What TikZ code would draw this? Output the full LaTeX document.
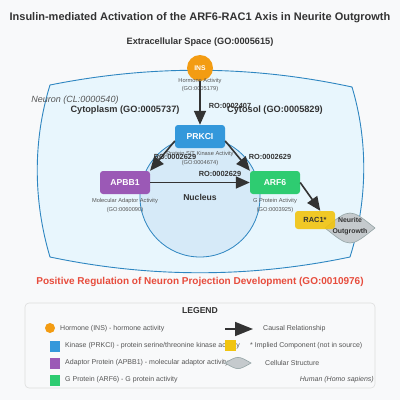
\documentclass[tikz,border=0pt]{standalone}
\usepackage{fontspec}
\setmainfont{Liberation Sans}
\usetikzlibrary{arrows.meta}
\definecolor{bg}{HTML}{F8F9FA}
\definecolor{darkc}{HTML}{333333}
\definecolor{descgray}{HTML}{555555}
\definecolor{cellfill}{HTML}{E8F6FD}
\definecolor{cellline}{HTML}{2E86C1}
\definecolor{nucfill}{HTML}{D6EAF8}
\definecolor{insc}{HTML}{F39C12}
\definecolor{kinc}{HTML}{3498DB}
\definecolor{adac}{HTML}{9B59B6}
\definecolor{gpc}{HTML}{2ECC71}
\definecolor{racc}{HTML}{F1C40F}
\definecolor{lensfill}{HTML}{C5CACD}
\definecolor{lensline}{HTML}{95A5A6}
\definecolor{redc}{HTML}{E74C3C}
\definecolor{legline}{HTML}{DDDDDD}
\begin{document}
\begin{tikzpicture}[x=1pt,y=-1pt,
  gene/.style={rounded corners=3pt, minimum width=50pt, minimum height=23pt, text=white, font=\bfseries\fontsize{8.6}{10}\selectfont, inner sep=0pt},
  desc/.style={text=descgray, font=\fontsize{5.7}{7}\selectfont, inner sep=0pt},
  rel/.style={draw=darkc, line width=1.6pt, -{Triangle[length=14pt,width=12pt]}},
  rolab/.style={text=darkc, font=\bfseries\fontsize{7.4}{9}\selectfont, inner sep=0pt},
  region/.style={text=darkc, font=\bfseries\fontsize{9.2}{11}\selectfont, inner sep=0pt},
  legtext/.style={text=descgray, font=\fontsize{7}{8.4}\selectfont, inner sep=0pt, anchor=west},
  lenslook/.style={fill=lensfill, draw=lensline, line width=0.6pt}
]
\useasboundingbox (0,0) rectangle (400,400);
\fill[bg] (0,0) rectangle (400,400);

% title
\node[text=darkc, font=\bfseries\fontsize{11}{13}\selectfont, inner sep=0pt] (title) at (200,18) {Insulin-mediated Activation of the ARF6-RAC1 Axis in Neurite Outgrowth};
\node[region] (extra) at (200,42) {Extracellular Space (GO:0005615)};

% neuron
\path[fill=cellfill, draw=cellline, line width=0.9pt]
  (50,85) .. controls (150,65) and (250,65) .. (352,87)
  .. controls (368,140) and (368,200) .. (350,257)
  .. controls (250,278) and (150,278) .. (50,257)
  .. controls (33,200) and (33,140) .. (50,85) -- cycle;
\node[text=descgray, font=\itshape\fontsize{9}{11}\selectfont, inner sep=0pt] (neuron) at (75,100) {Neuron (CL:0000540)};
\node[region] (cyto) at (125,110) {Cytoplasm (GO:0005737)};
\node[region] (cytosol) at (275,110) {Cytosol (GO:0005829)};

% nucleus
\node[circle, fill=nucfill, draw=cellline, line width=0.8pt, minimum size=120pt, inner sep=0pt] (nucleus) at (200,197) {};
\node[region, font=\bfseries\fontsize{8.6}{10}\selectfont] (nuclab) at (200,197) {Nucleus};

% INS
\node[circle, fill=insc, minimum size=26pt, inner sep=0pt, text=white, font=\bfseries\fontsize{6.8}{8}\selectfont] (ins) at (200,68) {INS};
\node[desc] (insd1) at (200,81) {Hormone Activity};
\node[desc] (insd2) at (200,89) {(GO:0005179)};

% genes
\node[gene, fill=kinc] (prkci) at (200,136.5) {PRKCI};
\node[desc] (prd1) at (200,154) {Protein S/T Kinase Activity};
\node[desc] (prd2) at (200,163) {(GO:0004674)};

\node[gene, fill=adac] (apbb1) at (125,182.5) {APBB1};
\node[desc] (apd1) at (125,201) {Molecular Adaptor Activity};
\node[desc] (apd2) at (125,210) {(GO:0060090)};

\node[gene, fill=gpc] (arf6) at (275,182.5) {ARF6};
\node[desc] (ard1) at (275,201) {G Protein Activity};
\node[desc] (ard2) at (275,210) {(GO:0003925)};

% neurite outgrowth lens
\path[lenslook] (325,228) .. controls (350,208) .. (375,228) .. controls (350,248) .. (325,228) -- cycle;
\node[gene, fill=racc, fill opacity=0.9, text opacity=1, text=darkc, minimum width=40pt, minimum height=18pt, font=\bfseries\fontsize{7.4}{9}\selectfont] (rac1) at (315,220) {RAC1*};
\node[text=darkc, font=\bfseries\fontsize{6.9}{11}\selectfont, align=center, inner sep=0pt] (neurite) at (350,226) {Neurite\\Outgrowth};

% relations
\draw[rel] (ins) -- (prkci);
\draw[rel] (prkci.190) -- (apbb1.25);
\draw[rel] (prkci.350) -- (arf6.155);
\draw[rel] (apbb1.east) -- (arf6.west);
\draw[rel] (arf6.east) -- (rac1.60);

\node[rolab] (ro1) at (230,106) {RO:0002407};
\node[rolab] (ro2) at (175,157) {RO:0002629};
\node[rolab] (ro3) at (270,157) {RO:0002629};
\node[rolab] (ro4) at (220,174) {RO:0002629};

% bottom process label
\node[text=redc, font=\bfseries\fontsize{10}{12}\selectfont, inner sep=0pt] (process) at (200,282) {Positive Regulation of Neuron Projection Development (GO:0010976)};

% legend
\draw[fill=bg, draw=legline, line width=0.6pt, rounded corners=4pt] (25,303) rectangle (375,388);
\node[text=darkc, font=\bfseries\fontsize{8.6}{10}\selectfont, inner sep=0pt] (legtitle) at (200,311) {LEGEND};

\node[circle, fill=insc, minimum size=10pt, inner sep=0pt] (lins) at (50,328) {};
\node[legtext] (tins) at (60,329) {Hormone (INS) - hormone activity};
\node[fill=kinc, minimum width=10pt, minimum height=11pt, inner sep=0pt] (lkin) at (55,346) {};
\node[legtext] (tkin) at (65,346) {Kinase (PRKCI) - protein serine/threonine kinase activity};
\node[fill=adac, minimum width=10pt, minimum height=11pt, inner sep=0pt] (lada) at (55,363) {};
\node[legtext] (tada) at (65,363) {Adaptor Protein (APBB1) - molecular adaptor activity};
\node[fill=gpc, minimum width=10pt, minimum height=11pt, inner sep=0pt] (lgp) at (55,380) {};
\node[legtext] (tgp) at (65,380) {G Protein (ARF6) - G protein activity};

\coordinate (la1) at (225,329);
\coordinate (la2) at (253,329);
\draw[draw=darkc, line width=1.6pt, -{Triangle[length=18pt,width=14pt]}] (la1) -- (la2);
\node[legtext] (tcaus) at (263,329) {Causal Relationship};
\node[fill=racc, minimum width=11pt, minimum height=11pt, inner sep=0pt] (lrac) at (230.5,345.5) {};
\node[legtext] (trac) at (250,346) {* Implied Component (not in source)};
\path[lenslook] (225,363) .. controls (238,355.5) .. (251,363) .. controls (238,370.5) .. (225,363) -- cycle;
\node[legtext] (tlens) at (265,363) {Cellular Structure};
\node[legtext, anchor=east, font=\itshape\fontsize{7}{8.4}\selectfont] (species) at (374,380) {Human (Homo sapiens)};
\end{tikzpicture}
\end{document}
